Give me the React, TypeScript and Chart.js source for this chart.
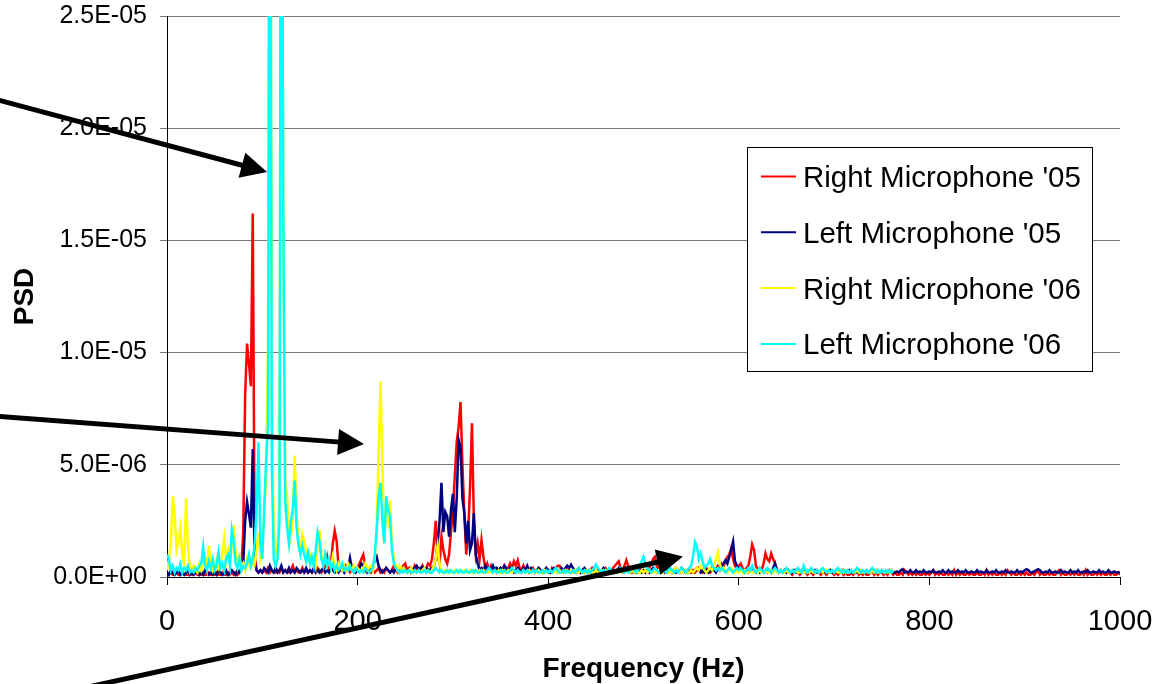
import React, { useEffect, useRef } from "react";
import { Chart, registerables } from "chart.js";

Chart.register(...registerables);

// ---------- data (PSD values in units of 1E-06, one value every FREQ_STEP_HZ starting at 0 Hz) ----------
const FREQ_STEP_HZ = 2;
const PSD_UNIT = 1e-6;
const X_MIN = 0;
const X_MAX = 1000;
const X_STEP = 200;
const Y_MIN = 0;
const Y_MAX = 25;
const Y_STEP = 5;

const SERIES_NAMES = ["Right Microphone '05", "Left Microphone '05", "Right Microphone '06", "Left Microphone '06"];

// Right Microphone '05 : 0 .. 1000 Hz
const RIGHT_05 = [
  0.2,0.1,0.2,0.1,0.1, 0.2,0.1,0.1,0.2,0.1, 0.1,0.1,0.2,0.1,0.1, 0.2,0.1,0.1,0.1,0.2, 0.1,0.1,0.2,0.1,0.1,
  0.1,0.2,0.1,0.1,0.2, 0.1,0.1,0.2,0.1,0.2, 0.1,0.2,0.1,0.2,0.4, 2.0,8.1,10.4,9.5,8.5, 16.2,1.0,0.3,0.2,0.3,
  0.2,0.3,0.2,0.4,0.2, 0.3,0.2,0.2,0.3,0.2, 0.4,0.2,0.3,0.2,0.2, 0.3,0.5,0.2,0.3,0.2, 0.2,0.4,0.2,0.3,0.2,
  0.3,0.2,0.3,0.2,0.4, 0.3,0.2,0.3,0.5,0.9, 0.4,0.6,1.5,2.05,1.6, 0.5,0.3,0.4,0.2,0.3, 0.4,0.2,0.3,0.2,0.3,
  0.4,0.6,0.8,1.0,0.5, 0.3,0.4,0.2,0.3,0.2, 0.3,0.4,0.2,0.3,0.2, 0.4,0.3,0.2,0.3,0.5, 0.3,0.2,0.4,0.3,0.5,
  0.6,0.3,0.4,0.2,0.3, 0.5,0.3,0.4,0.3,0.5, 0.3,0.4,0.6,0.5,0.8, 1.5,2.5,1.0,0.6,1.8, 1.2,0.8,0.6,1.0,2.0,
  3.0,4.5,6.0,6.7,7.8, 5.0,2.8,1.0,2.0,4.0, 6.85,2.5,1.0,1.5,0.8, 1.65,0.9,0.4,0.6,0.3, 0.5,0.3,0.4,0.2,0.3,
  0.4,0.3,0.5,0.3,0.4, 0.6,0.4,0.7,0.5,0.75, 0.4,0.3,0.5,0.3,0.4, 0.2,0.3,0.4,0.2,0.3, 0.4,0.3,0.2,0.3,0.4,
  0.3,0.2,0.4,0.3,0.4, 0.5,0.5,0.3,0.2,0.3, 0.4,0.3,0.2,0.3,0.2, 0.3,0.4,0.2,0.3,0.2, 0.3,0.2,0.3,0.4,0.2,
  0.3,0.2,0.3,0.2,0.3, 0.4,0.3,0.2,0.3,0.4, 0.5,0.6,0.7,0.4,0.3, 0.5,0.75,0.5,0.3,0.2, 0.3,0.2,0.3,0.4,0.3,
  0.3,0.2,0.3,0.4,0.6, 0.8,0.9,0.5,0.3,0.2, 0.3,0.4,0.3,0.2,0.3, 0.2,0.3,0.4,0.3,0.2, 0.3,0.2,0.3,0.2,0.3,
  0.2,0.3,0.2,0.3,0.4, 0.3,0.2,0.3,0.4,0.3, 0.2,0.3,0.4,0.3,0.5, 0.4,0.6,0.5,0.7,0.9, 1.0,1.28,0.8,0.5,0.4,
  0.5,0.6,0.4,0.3,0.4, 0.5,0.9,1.45,1.2,0.5, 0.3,0.4,0.3,0.6,1.05, 0.8,0.7,1.05,0.8,0.6, 0.3,0.2,0.3,0.2,0.3,
  0.2,0.3,0.2,0.1,0.2, 0.3,0.2,0.1,0.2,0.3, 0.2,0.1,0.2,0.2,0.1, 0.2,0.3,0.2,0.1,0.2, 0.2,0.1,0.2,0.3,0.2,
  0.1,0.2,0.1,0.2,0.3, 0.1,0.2,0.1,0.1,0.2, 0.1,0.2,0.3,0.1,0.2, 0.1,0.2,0.1,0.1,0.2, 0.3,0.1,0.2,0.1,0.2,
  0.2,0.1,0.2,0.1,0.3, 0.2,0.1,0.2,0.1,0.1, 0.2,0.1,0.3,0.2,0.1, 0.2,0.1,0.2,0.1,0.2, 0.1,0.1,0.2,0.1,0.2,
  0.1,0.2,0.3,0.1,0.2, 0.1,0.2,0.1,0.1,0.2, 0.1,0.2,0.1,0.3,0.1, 0.2,0.1,0.2,0.1,0.1, 0.2,0.1,0.2,0.1,0.1,
  0.2,0.1,0.1,0.2,0.1, 0.3,0.1,0.2,0.1,0.2, 0.1,0.1,0.2,0.1,0.2, 0.1,0.3,0.2,0.1,0.2, 0.1,0.1,0.2,0.1,0.2,
  0.1,0.2,0.1,0.1,0.2, 0.1,0.2,0.3,0.1,0.2, 0.1,0.1,0.2,0.1,0.2, 0.1,0.1,0.2,0.3,0.1, 0.2,0.1,0.1,0.2,0.1,
  0.2,0.1,0.2,0.1,0.1, 0.2,0.1,0.3,0.1,0.2, 0.1,0.1,0.2,0.1,0.2, 0.1,0.2,0.1,0.1,0.2, 0.1,0.2,0.1,0.1,0.2,
  0.1,
];

// Left Microphone '05 : 0 .. 1000 Hz
const LEFT_05 = [
  0.2,0.1,0.3,0.2,0.1, 0.2,0.3,0.1,0.2,0.1, 0.2,0.3,0.1,0.2,0.1, 0.2,0.3,0.1,0.2,0.1, 0.3,0.2,0.1,0.2,0.1,
  0.2,0.1,0.3,0.2,0.1, 0.2,0.3,0.1,0.2,0.3, 0.2,0.1,0.3,0.2,0.3, 0.6,2.5,3.35,2.8,2.2, 5.7,0.6,0.3,0.2,0.3,
  0.2,0.4,0.3,0.2,0.5, 0.3,0.2,0.4,0.2,0.3, 0.5,0.2,0.3,0.2,0.4, 0.2,0.3,0.2,0.4,0.3, 0.2,0.3,0.2,0.4,0.2,
  0.3,0.2,0.4,0.2,0.3, 0.2,0.3,0.4,0.2,0.3, 0.2,0.4,0.3,0.2,0.3, 0.2,0.4,0.3,0.2,0.5, 0.4,0.85,0.4,0.3,0.2,
  0.3,0.4,0.6,0.5,0.3, 0.2,0.3,0.4,0.5,0.7, 0.9,0.5,0.3,0.2,0.3, 0.4,0.3,0.2,0.3,0.2, 0.4,0.3,0.2,0.3,0.4,
  0.3,0.2,0.3,0.4,0.3, 0.4,0.5,0.3,0.4,0.45, 0.3,0.4,0.35,0.3,0.4, 0.5,0.8,1.5,2.5,4.2, 2.0,2.9,2.7,1.8,3.0,
  3.7,2.0,3.5,6.1,5.8, 3.5,2.85,1.5,2.5,1.2, 1.5,2.85,1.0,0.6,0.3, 0.4,0.3,0.5,0.3,0.4, 0.3,0.5,0.3,0.4,0.3,
  0.4,0.3,0.5,0.4,0.3, 0.4,0.3,0.2,0.3,0.4, 0.3,0.2,0.4,0.3,0.5, 0.3,0.4,0.3,0.2,0.3, 0.4,0.3,0.2,0.3,0.4,
  0.3,0.2,0.3,0.4,0.3, 0.2,0.3,0.4,0.3,0.4, 0.5,0.4,0.55,0.4,0.3, 0.2,0.3,0.2,0.3,0.4, 0.3,0.2,0.3,0.2,0.3,
  0.2,0.3,0.2,0.3,0.4, 0.3,0.2,0.3,0.2,0.3, 0.2,0.3,0.4,0.3,0.2, 0.3,0.4,0.3,0.2,0.3, 0.2,0.3,0.2,0.3,0.2,
  0.3,0.2,0.3,0.2,0.3, 0.4,0.3,0.2,0.3,0.2, 0.3,0.2,0.3,0.4,0.3, 0.2,0.3,0.2,0.3,0.2, 0.4,0.3,0.2,0.3,0.2,
  0.3,0.2,0.3,0.4,0.3, 0.2,0.3,0.2,0.3,0.2, 0.3,0.4,0.3,0.2,0.4, 0.3,0.5,0.6,0.75,0.6, 0.9,1.2,1.57,0.7,0.5,
  0.3,0.4,0.3,0.2,0.3, 0.2,0.3,0.4,0.3,0.2, 0.3,0.2,0.3,0.2,0.3, 0.2,0.3,0.2,0.4,0.6, 0.3,0.2,0.3,0.2,0.3,
  0.2,0.3,0.2,0.2,0.3, 0.2,0.25,0.2,0.3,0.2, 0.2,0.3,0.2,0.25,0.2, 0.3,0.2,0.2,0.25,0.2, 0.3,0.2,0.2,0.3,0.2,
  0.2,0.3,0.2,0.25,0.2, 0.3,0.2,0.2,0.3,0.2, 0.25,0.2,0.2,0.3,0.2, 0.25,0.2,0.3,0.2,0.2, 0.25,0.2,0.3,0.2,0.2,
  0.3,0.2,0.2,0.25,0.2, 0.3,0.2,0.2,0.25,0.2, 0.3,0.35,0.2,0.25,0.2, 0.3,0.2,0.2,0.3,0.2, 0.25,0.2,0.3,0.2,0.2,
  0.25,0.2,0.3,0.2,0.2, 0.25,0.2,0.3,0.2,0.2, 0.3,0.2,0.25,0.2,0.2, 0.3,0.2,0.25,0.2,0.3, 0.2,0.2,0.25,0.2,0.2,
  0.3,0.2,0.25,0.2,0.2, 0.3,0.2,0.2,0.25,0.2, 0.3,0.2,0.2,0.25,0.2, 0.3,0.2,0.2,0.25,0.2, 0.2,0.3,0.2,0.25,0.2,
  0.3,0.35,0.3,0.2,0.2, 0.25,0.3,0.35,0.3,0.2, 0.2,0.25,0.2,0.3,0.2, 0.2,0.25,0.2,0.2,0.3, 0.2,0.25,0.2,0.2,0.3,
  0.2,0.25,0.2,0.3,0.2, 0.2,0.25,0.2,0.3,0.2, 0.2,0.25,0.2,0.2,0.3, 0.2,0.25,0.2,0.2,0.3, 0.2,0.2,0.25,0.2,0.2,
  0.2,
];

// Right Microphone '06 : 0 .. 762 Hz (45 = spike far above the plot top)
const RIGHT_06 = [
  0.3,0.8,1.5,3.6,2.8, 1.2,1.6,2.2,1.0,0.6, 3.5,1.4,0.4,0.3,0.5, 0.3,0.2,0.6,0.3,0.5, 0.9,0.4,1.4,0.6,0.3,
  0.5,0.8,0.4,0.6,1.0, 1.7,0.7,1.2,0.6,1.4, 2.3,1.1,0.5,0.9,0.4, 0.6,0.3,0.8,0.5,0.4, 0.9,0.6,1.2,2.0,0.9,
  1.5,3.0,4.5,10.3,45, 8.0,2.0,1.0,1.3,3.5, 45,14.5,4.3,3.6,1.5, 1.8,2.6,5.4,2.8,1.5, 1.3,1.9,1.6,1.2,0.8,
  1.0,0.6,0.9,0.5,1.4, 2.1,1.0,0.6,0.9,0.5, 0.7,0.4,0.9,0.5,0.3, 0.6,0.4,0.3,0.5,0.3, 0.6,0.4,0.3,0.5,0.3,
  0.4,0.3,0.2,0.4,0.6, 0.3,0.4,0.5,0.3,0.8, 2.0,5.5,8.7,5.0,1.8, 3.2,2.5,3.4,1.5,0.8, 0.5,0.3,0.5,0.3,0.4,
  0.3,0.2,0.3,0.4,0.2, 0.3,0.2,0.3,0.2,0.3, 0.4,0.2,0.3,0.2,0.3, 0.5,0.8,1.4,0.6,0.3, 0.2,0.3,0.2,0.3,0.2,
  0.2,0.3,0.2,0.2,0.3, 0.2,0.3,0.2,0.2,0.3, 0.2,0.3,0.2,0.2,0.3, 0.2,0.3,0.2,0.2,0.3, 0.2,0.2,0.3,0.2,0.3,
  0.2,0.3,0.2,0.2,0.3, 0.2,0.2,0.3,0.2,0.3, 0.2,0.2,0.3,0.2,0.2, 0.3,0.2,0.3,0.2,0.2, 0.3,0.2,0.2,0.3,0.2,
  0.2,0.3,0.2,0.2,0.3, 0.2,0.3,0.2,0.2,0.3, 0.2,0.2,0.3,0.2,0.3, 0.2,0.2,0.3,0.2,0.2, 0.3,0.2,0.3,0.2,0.2,
  0.3,0.2,0.2,0.3,0.2, 0.3,0.2,0.2,0.3,0.2, 0.2,0.3,0.2,0.3,0.2, 0.2,0.3,0.2,0.2,0.3, 0.2,0.3,0.2,0.2,0.3,
  0.2,0.3,0.2,0.3,0.2, 0.2,0.3,0.2,0.3,0.2, 0.2,0.3,0.2,0.2,0.3, 0.2,0.3,0.4,0.3,0.2, 0.3,0.2,0.3,0.2,0.2,
  0.3,0.2,0.3,0.4,0.3, 0.5,0.4,0.3,0.2,0.3, 0.4,0.3,0.5,0.8,1.1, 0.6,0.3,0.4,0.3,0.2, 0.3,0.4,0.3,0.2,0.3,
  0.2,0.3,0.2,0.3,0.2, 0.2,0.3,0.2,0.2,0.3, 0.2,0.3,0.2,0.2,0.3, 0.2,0.2,0.3,0.2,0.3, 0.2,0.2,0.3,0.2,0.2,
  0.3,0.2,0.2,0.3,0.2, 0.3,0.2,0.2,0.3,0.2, 0.2,0.3,0.2,0.3,0.2, 0.2,0.3,0.2,0.3,0.2, 0.35,0.3,0.2,0.2,0.3,
  0.2,0.3,0.2,0.2,0.3, 0.2,0.3,0.2,0.2,0.3, 0.2,0.2,0.3,0.2,0.3, 0.2,0.2,0.3,0.2,0.2, 0.3,0.2,0.3,0.2,0.2,
  0.3,0.2,0.2,0.3,0.2,0.3,0.2,
];

// Left Microphone '06 : 0 .. 762 Hz (45 = spike far above the plot top)
const LEFT_06 = [
  1.0,0.8,0.3,0.5,0.2, 0.4,0.3,0.6,0.2,0.4, 0.3,0.5,0.2,0.3,0.2, 0.4,0.3,0.5,0.6,1.35, 0.5,0.3,0.7,0.4,0.8,
  0.3,0.5,1.1,0.4,0.6, 0.3,0.8,1.0,0.5,2.1, 1.6,0.6,0.4,0.8,0.3, 0.5,0.4,0.6,1.0,0.5, 0.8,1.5,3.0,6.0,1.5,
  0.8,3.0,5.2,6.8,45, 5.0,0.8,0.5,0.8,2.5, 45,16.3,3.4,2.2,1.5, 2.5,3.0,4.3,2.2,1.4, 1.0,1.4,1.0,0.7,1.1,
  0.6,0.9,0.5,1.2,2.0, 1.6,0.8,0.5,1.0,0.5, 0.8,0.4,0.6,0.3,0.5, 0.3,0.4,0.6,0.3,0.4, 0.3,0.5,0.3,0.2,0.4,
  0.3,0.2,0.3,0.2,0.4, 0.3,0.2,0.3,0.4,1.0, 2.1,3.5,4.2,2.5,1.5, 3.6,3.0,2.7,1.2,0.6, 0.4,0.3,0.2,0.3,0.2,
  0.3,0.2,0.3,0.2,0.2, 0.3,0.2,0.3,0.2,0.2, 0.3,0.2,0.3,0.2,0.2, 0.3,0.4,0.3,0.2,0.3, 0.2,0.2,0.3,0.2,0.3,
  0.2,0.2,0.3,0.2,0.3, 0.2,0.2,0.3,0.2,0.2, 0.3,0.2,0.3,0.2,0.2, 0.3,0.2,0.2,0.3,0.4, 0.3,0.2,0.3,0.2,0.2,
  0.3,0.2,0.3,0.2,0.2, 0.3,0.4,0.3,0.2,0.3, 0.2,0.2,0.3,0.2,0.3, 0.2,0.2,0.3,0.2,0.3, 0.2,0.2,0.3,0.2,0.3,
  0.2,0.3,0.2,0.3,0.4, 0.3,0.2,0.2,0.3,0.2, 0.3,0.2,0.2,0.3,0.2, 0.3,0.4,0.3,0.2,0.3, 0.2,0.3,0.2,0.3,0.4,
  0.55,0.4,0.3,0.2,0.3, 0.2,0.3,0.4,0.3,0.2, 0.3,0.2,0.3,0.4,0.3, 0.2,0.3,0.2,0.3,0.4, 0.3,0.2,0.3,0.5,0.7,
  0.9,0.6,0.4,0.3,0.2, 0.3,0.4,0.3,0.2,0.3, 0.4,0.3,0.2,0.3,0.4, 0.3,0.2,0.3,0.2,0.3, 0.4,0.3,0.2,0.3,0.4,
  0.5,0.9,1.57,1.4,0.8, 1.05,0.7,0.4,0.5,0.6, 0.8,0.5,0.4,0.3,0.4, 0.3,0.4,0.3,0.2,0.3, 0.4,0.3,0.2,0.3,0.4,
  0.3,0.4,0.3,0.2,0.3, 0.4,0.3,0.5,0.3,0.2, 0.3,0.4,0.3,0.2,0.3, 0.4,0.3,0.2,0.3,0.4, 0.3,0.2,0.3,0.2,0.3,
  0.4,0.3,0.2,0.3,0.2, 0.3,0.4,0.3,0.2,0.5, 0.3,0.2,0.3,0.4,0.3, 0.2,0.3,0.2,0.3,0.4, 0.3,0.2,0.3,0.2,0.3,
  0.2,0.3,0.4,0.3,0.2, 0.3,0.2,0.3,0.2,0.3, 0.2,0.3,0.4,0.3,0.2, 0.3,0.2,0.3,0.2,0.3, 0.4,0.3,0.2,0.3,0.2,
  0.3,0.2,0.3,0.2,0.3,0.2,0.3,
];

// Annotation arrows, in data units: [frequency Hz, PSD in 1E-06]
const ARROWS: { tail: [number, number]; tip: [number, number] }[] = [
  { tail: [-181, 21.3], tip: [105, 18.05] },
  { tail: [-181, 7.17], tip: [206.7, 5.93] },
  { tail: [-147, -5.5], tip: [541.4, 0.91] },
];

// ---------- styles ----------
const SERIES_COLORS = ["#FF0000", "#000080", "#FFFF00", "#00FFFF"];
const FONT = "'Liberation Sans', Arial, Helvetica, sans-serif";

function sciLabel(v: number): string {
  const val = Number(v) * PSD_UNIT;
  if (Math.abs(val) < 1e-15) return "0.0E+00";
  const [m, e] = val.toExponential(1).split("e");
  const n = parseInt(e, 10);
  return `${m}E${n < 0 ? "-" : "+"}${String(Math.abs(n)).padStart(2, "0")}`;
}

const toPoints = (vals: number[]) => vals.map((v, i) => ({ x: i * FREQ_STEP_HZ, y: v }));

const legendBoxPlugin = {
  id: "legendBox",
  afterDatasetsDraw(chart: any) {
    const { ctx, chartArea } = chart;
    const left = Math.round(chartArea.right - 373);
    const top = Math.round(chartArea.top + 131);
    const w = 345;
    const h = 224;
    ctx.save();
    ctx.fillStyle = "#ffffff";
    ctx.fillRect(left, top, w, h);
    ctx.strokeStyle = "#000000";
    ctx.lineWidth = 1;
    ctx.strokeRect(left + 0.5, top + 0.5, w, h);
    ctx.font = `29.5px ${FONT}`;
    ctx.textBaseline = "alphabetic";
    ctx.textAlign = "left";
    chart.data.datasets.forEach((ds: any, i: number) => {
      const cy = top + 29.5 + i * 55.8;
      ctx.strokeStyle = ds.borderColor;
      ctx.lineWidth = 2;
      ctx.beginPath();
      ctx.moveTo(left + 14, cy);
      ctx.lineTo(left + 49, cy);
      ctx.stroke();
      ctx.fillStyle = "#000000";
      ctx.fillText(ds.label, left + 56, cy + 10.5);
    });
    ctx.restore();
  },
};

const arrowsPlugin = {
  id: "arrows",
  afterDraw(chart: any) {
    const { ctx } = chart;
    const xs = chart.scales.x;
    const ys = chart.scales.y;
    ctx.save();
    ctx.fillStyle = "#000000";
    ctx.strokeStyle = "#000000";
    for (const a of ARROWS) {
      const x0 = xs.getPixelForValue(a.tail[0]);
      const y0 = ys.getPixelForValue(a.tail[1]);
      const x1 = xs.getPixelForValue(a.tip[0]);
      const y1 = ys.getPixelForValue(a.tip[1]);
      const dx = x1 - x0;
      const dy = y1 - y0;
      const len = Math.hypot(dx, dy);
      const ux = dx / len;
      const uy = dy / len;
      const headLen = 26;
      const headHalf = 13;
      const bx = x1 - ux * headLen;
      const by = y1 - uy * headLen;
      ctx.lineWidth = 5;
      ctx.lineCap = "butt";
      ctx.beginPath();
      ctx.moveTo(x0, y0);
      ctx.lineTo(bx + ux * 2, by + uy * 2);
      ctx.stroke();
      ctx.beginPath();
      ctx.moveTo(x1, y1);
      ctx.lineTo(bx - uy * headHalf, by + ux * headHalf);
      ctx.lineTo(bx + uy * headHalf, by - ux * headHalf);
      ctx.closePath();
      ctx.fill();
    }
    ctx.restore();
  },
};

export default function App() {
  const canvasRef = useRef<HTMLCanvasElement | null>(null);

  useEffect(() => {
    const canvas = canvasRef.current;
    if (!canvas) return;
    const seriesValues = [RIGHT_05, LEFT_05, RIGHT_06, LEFT_06];
    const chart = new Chart(canvas, {
      type: "line",
      data: {
        datasets: seriesValues.map((vals, i) => ({
          label: SERIES_NAMES[i],
          data: toPoints(vals),
          borderColor: SERIES_COLORS[i],
          backgroundColor: SERIES_COLORS[i],
          borderWidth: 2.5,
          pointRadius: 0,
          pointHoverRadius: 0,
          tension: 0,
          fill: false,
          order: seriesValues.length - 1 - i,
        })),
      },
      options: {
        responsive: false,
        animation: false,
        events: [],
        layout: { padding: { top: 16, right: 45, bottom: 0, left: 0 } },
        plugins: {
          legend: { display: false },
          tooltip: { enabled: false },
        },
        scales: {
          x: {
            type: "linear",
            min: X_MIN,
            max: X_MAX,
            ticks: {
              stepSize: X_STEP,
              color: "#000000",
              font: { family: FONT, size: 29 },
              padding: 20,
              maxRotation: 0,
              callback: (v: any) => String(v),
            },
            grid: { drawOnChartArea: false, drawTicks: true, tickLength: 8, color: "#000000", tickColor: "#000000" },
            border: { display: true, color: "#000000", width: 1 },
            title: {
              display: true,
              text: "Frequency (Hz)",
              color: "#000000",
              font: { family: FONT, size: 28, weight: "bold" },
              padding: { top: 0, bottom: -2 },
            },
            afterFit: (s: any) => {
              s.height = 107;
              s.paddingLeft = 0;
              s.paddingRight = 0;
            },
          },
          y: {
            type: "linear",
            min: Y_MIN,
            max: Y_MAX,
            ticks: {
              stepSize: Y_STEP,
              color: "#000000",
              font: { family: FONT, size: 25 },
              padding: 13,
              callback: (v: any) => sciLabel(v),
            },
            grid: { color: "#777777", tickLength: 7, tickColor: "#777777", lineWidth: 1 },
            border: { display: true, color: "#000000", width: 1 },
            title: {
              display: true,
              text: "PSD",
              color: "#000000",
              font: { family: FONT, size: 28, weight: "bold" },
              padding: { top: 8, bottom: 0 },
            },
            afterFit: (s: any) => {
              s.width = 167;
              s.paddingTop = 0;
              s.paddingBottom = 0;
            },
          },
        },
      } as any,
      plugins: [legendBoxPlugin, arrowsPlugin],
    });
    return () => chart.destroy();
  }, []);

  return (
    <div style={{ position: "fixed", left: 0, top: 0, width: 1165, height: 684, background: "#ffffff" }}>
      <canvas ref={canvasRef} width={1165} height={684} style={{ display: "block", width: 1165, height: 684 }} />
    </div>
  );
}
